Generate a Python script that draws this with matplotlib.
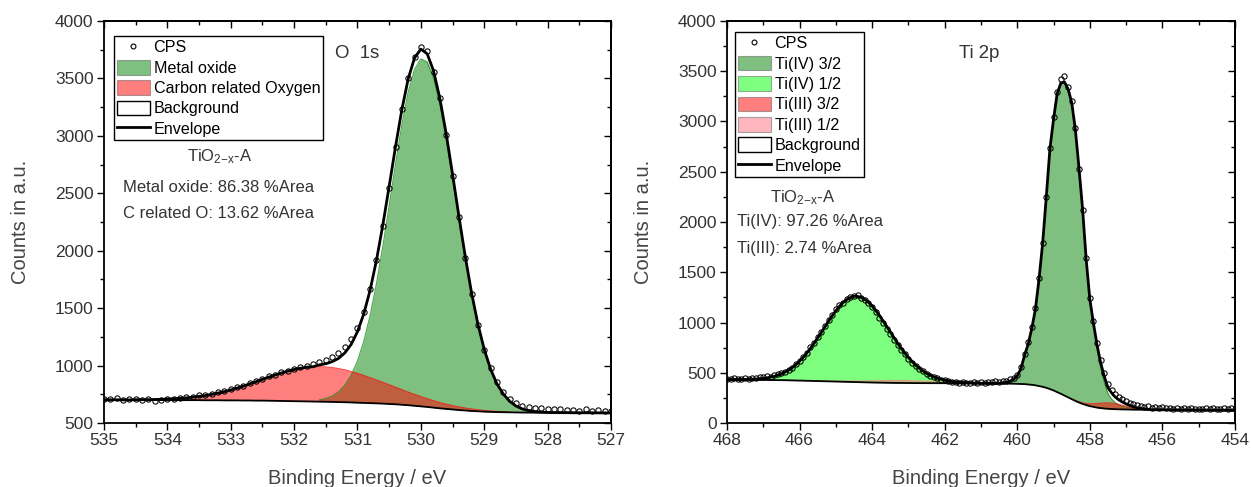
import numpy as np
import matplotlib.pyplot as plt
from matplotlib.lines import Line2D
from matplotlib.patches import Patch
from matplotlib.ticker import MultipleLocator

plt.rcParams['font.family'] = ['Liberation Sans', 'DejaVu Sans']
plt.rcParams['mathtext.fontset'] = 'custom'
plt.rcParams['mathtext.rm'] = 'Liberation Sans'
plt.rcParams['mathtext.it'] = 'Liberation Sans:italic'
plt.rcParams['mathtext.default'] = 'regular'

STEP = 0.1  # eV between channels, energies run downwards

# ---------------- O 1s ----------------
o1s_first = 535.0
o1s_cps = [
    712, 705, 716, 698, 708, 712, 700, 706, 694, 703,
    712, 709, 722, 730, 726, 741, 748, 752, 770, 779,
    792, 815, 820, 848, 866, 882, 905, 921, 940, 955,
    972, 985, 998, 1012, 1030, 1048, 1075, 1110, 1158, 1228,
    1330, 1470, 1665, 1915, 2215, 2545, 2900, 3230, 3500, 3690,
    3770, 3735, 3560, 3330, 3010, 2650, 2290, 1940, 1625, 1350,
    1135, 978, 855, 770, 712, 675, 652, 640, 628, 634,
    620, 618, 625, 612, 615, 608, 618, 606, 612, 603,
    608,
]
o1s_background = [
    702, 702, 702, 701, 701, 701, 701, 700, 700, 700,
    700, 700, 699, 699, 699, 699, 698, 698, 698, 697,
    697, 697, 696, 696, 695, 695, 694, 693, 692, 691,
    690, 689, 688, 687, 686, 685, 684, 682, 681, 679,
    677, 675, 673, 671, 669, 666, 663, 659, 655, 650,
    645, 640, 634, 628, 623, 618, 613, 609, 605, 602,
    599, 597, 595, 594, 593, 592, 591, 591, 590, 590,
    590, 590, 590, 590, 589, 589, 589, 589, 588, 588,
    588,
]
# fitted components: counts above background, from the given start energy
metal_oxide_first = 531.6
metal_oxide = [
    15, 28, 51, 88, 147, 236, 363, 537, 764, 1044,
    1370, 1727, 2093, 2437, 2727, 2929, 3025, 3003, 2872, 2648,
    2353, 2014, 1662, 1321, 1012, 747, 532, 365, 241, 154,
    94, 56, 32, 17, 9, 5, 2,
]
carbon_oxygen_first = 534.5
carbon_oxygen = [
    2, 2, 3, 5, 6, 9, 12, 15, 20, 26,
    33, 41, 51, 63, 76, 91, 107, 125, 145, 165,
    185, 205, 225, 244, 261, 276, 288, 298, 303, 305,
    303, 299, 292, 282, 269, 255, 239, 221, 203, 185,
    167, 149, 131, 114, 99, 85, 72, 60, 50, 41,
    34, 27, 22, 17, 13, 10, 8, 6, 5, 3,
]

# ---------------- Ti 2p ----------------
ti2p_first = 468.0
ti2p_cps = [
    440, 436, 445, 438, 442, 447, 441, 452, 449, 458,
    455, 466, 462, 478, 485, 497, 508, 530, 548, 590,
    618, 660, 700, 752, 795, 852, 905, 962, 1020, 1075,
    1130, 1172, 1195, 1236, 1252, 1265, 1272, 1248, 1225, 1190,
    1150, 1100, 1048, 995, 938, 885, 828, 778, 728, 684,
    640, 602, 570, 540, 515, 490, 471, 458, 445, 430,
    424, 418, 412, 405, 398, 410, 402, 396, 404, 399,
    408, 401, 412, 405, 415, 410, 422, 418, 435, 452,
    482, 560, 690, 810, 955, 1140, 1445, 1790, 2245, 2735,
    3040, 3290, 3420, 3455, 3340, 3205, 2935, 2530, 2115, 1640,
    1245, 1010, 800, 630, 500, 390, 330, 290, 255, 238,
    215, 200, 185, 178, 168, 160, 165, 152, 158, 148,
    155, 146, 150, 143, 152, 141, 146, 138, 149, 140,
    144, 137, 146, 139, 150, 142, 136, 145, 138, 147,
    140,
]
ti2p_background = [
    432, 432, 431, 431, 431, 430, 430, 430, 429, 429,
    429, 428, 428, 427, 427, 426, 426, 425, 424, 424,
    423, 422, 421, 420, 419, 418, 417, 416, 415, 414,
    413, 412, 411, 410, 409, 408, 407, 406, 405, 404,
    403, 402, 402, 401, 400, 400, 399, 399, 398, 398,
    398, 397, 397, 397, 397, 396, 396, 396, 396, 396,
    396, 396, 395, 395, 395, 395, 395, 395, 395, 394,
    394, 394, 394, 394, 394, 393, 393, 392, 392, 391,
    390, 389, 387, 384, 380, 375, 368, 360, 350, 338,
    324, 308, 291, 273, 255, 237, 220, 204, 190, 178,
    168, 160, 153, 148, 144, 141, 139, 137, 136, 135,
    134, 134, 133, 133, 133, 132, 132, 132, 132, 131,
    131, 131, 131, 130, 130, 130, 130, 129, 129, 129,
    129, 129, 128, 128, 128, 128, 128, 127, 127, 127,
    127,
]
ti4_32_first = 460.5
ti4_32 = [
    3, 6, 13, 25, 45, 80, 150, 285, 400, 560,
    757, 1064, 1430, 1900, 2390, 2700, 2970, 3090, 3120, 3070,
    2950, 2700, 2330, 1930, 1430, 1040, 800, 580, 400, 260,
    150, 100, 65, 45, 32, 24, 18, 13, 9, 6,
    4, 2,
]
ti4_12_first = 467.6
ti4_12 = [
    2, 3, 4, 6, 8, 11, 15, 21, 28, 37,
    49, 63, 81, 102, 127, 157, 192, 230, 274, 322,
    373, 427, 483, 540, 596, 650, 700, 745, 783, 812,
    832, 843, 843, 832, 812, 783, 745, 700, 650, 596,
    540, 483, 427, 373, 322, 274, 230, 192, 157, 127,
    102, 81, 63, 49, 37, 28, 21, 15, 11, 8,
    6, 4, 3, 2,
]
ti3_32_first = 458.5
ti3_32 = [2, 4, 6, 10, 16, 23, 32, 41, 49, 56, 60,
          60, 56, 49, 41, 32, 23, 16, 10, 6, 4, 2]
ti3_12_first = 465.5
ti3_12 = [
    1, 1, 2, 2, 3, 3, 4, 5, 6, 7,
    9, 10, 12, 13, 15, 17, 18, 20, 21, 23,
    24, 24, 25, 25, 25, 25, 24, 23, 21, 20,
    18, 17, 15, 13, 12, 10, 9, 7, 6, 5,
    4, 3, 3, 2, 2, 1, 1,
]

TEXT = '#333333'


def on_grid(first, heights, grid_first, n):
    full = np.zeros(n)
    i0 = int(round((grid_first - first) / STEP))
    full[i0:i0 + len(heights)] = heights
    return full


def draw_panel(ax, grid_first, cps, background, components):
    n = len(cps)
    energy = grid_first - STEP * np.arange(n)
    bg = np.asarray(background, dtype=float)
    envelope = bg.copy()

    handles = [Line2D([], [], ls='none', marker='o', mfc='none', mec='k',
                      ms=3.5, mew=0.8)]
    labels = ['CPS']
    for first, heights, color, label in components:
        h = on_grid(first, heights, grid_first, n)
        top = bg + h
        envelope += h
        ax.fill_between(energy, bg, top, color=color, alpha=0.5, lw=0, zorder=1)
        ax.plot(energy, np.where(h > 0, top, np.nan), color=color, lw=0.8,
                alpha=0.7, zorder=1.5)
        handles.append(Patch(facecolor=color, alpha=0.5, edgecolor='0.35', lw=0.8))
        labels.append(label)

    ax.plot(energy, bg, color='k', lw=1.3, zorder=2)
    ax.plot(energy, envelope, color='k', lw=2.0, zorder=3)
    ax.plot(energy, cps, ls='none', marker='o', mfc='none', mec='k',
            ms=3.8, mew=0.75, zorder=4)

    handles.append(Patch(facecolor='white', edgecolor='k', lw=1.0))
    labels.append('Background')
    handles.append(Line2D([], [], color='k', lw=2.0))
    labels.append('Envelope')
    return handles, labels


def style_axes(ax, xlim, ylim, ymajor):
    ax.set_xlim(*xlim)
    ax.set_ylim(*ylim)
    ax.xaxis.set_major_locator(MultipleLocator(1 if xlim[0] - xlim[1] < 10 else 2))
    ax.xaxis.set_minor_locator(MultipleLocator(0.5 if xlim[0] - xlim[1] < 10 else 1))
    ax.yaxis.set_major_locator(MultipleLocator(ymajor))
    ax.yaxis.set_minor_locator(MultipleLocator(ymajor / 2))
    ax.tick_params(which='both', direction='out', width=1.0, colors='k',
                   labelcolor=TEXT, labelsize=12.5)
    ax.tick_params(which='major', length=5, pad=2.5)
    ax.tick_params(which='minor', length=3)
    for s in ax.spines.values():
        s.set_linewidth(1.3)

    top = ax.secondary_xaxis('top')
    top.xaxis.set_major_locator(ax.xaxis.get_major_locator())
    top.xaxis.set_minor_locator(ax.xaxis.get_minor_locator())
    top.tick_params(which='both', direction='in', labeltop=False, width=1.0)
    top.tick_params(which='major', length=5)
    top.tick_params(which='minor', length=3)
    right = ax.secondary_yaxis('right')
    right.yaxis.set_major_locator(ax.yaxis.get_major_locator())
    right.yaxis.set_minor_locator(ax.yaxis.get_minor_locator())
    right.tick_params(which='both', direction='in', labelright=False, width=1.0)
    right.tick_params(which='major', length=5)
    right.tick_params(which='minor', length=3)
    for sec in (top, right):
        for s in sec.spines.values():
            s.set_linewidth(1.3)

    ax.set_xlabel('Binding Energy / eV', fontsize=14.5, color='#444444')
    ax.set_ylabel('Counts in a.u.', fontsize=14.5, color='#444444')
    ax.xaxis.set_label_coords(0.5, -0.115)
    ax.yaxis.set_label_coords(-0.146, 0.5)


fig = plt.figure(figsize=(12.51, 4.87), dpi=100)
ax1 = fig.add_axes([0.0831, 0.1314, 0.4053, 0.8255])
ax2 = fig.add_axes([0.5811, 0.1314, 0.4061, 0.8255])

legend_kw = dict(loc='upper left', fontsize=11.6, frameon=True, fancybox=False,
                 edgecolor='k', framealpha=1, borderaxespad=0, borderpad=0.2,
                 labelspacing=0.28, handlelength=2.0, handleheight=1.05,
                 handletextpad=0.25)

# O 1s
h1, l1 = draw_panel(ax1, o1s_first, o1s_cps, o1s_background, [
    (metal_oxide_first, metal_oxide, '#008000', 'Metal oxide'),
    (carbon_oxygen_first, carbon_oxygen, '#ff0000', 'Carbon related Oxygen'),
])
style_axes(ax1, (535, 527), (500, 4000), 500)
leg1 = ax1.legend(h1, l1, bbox_to_anchor=(0.020, 0.963), **legend_kw)
leg1.get_frame().set_linewidth(1.0)
ax1.text(0.456, 0.920, 'O  1s', transform=ax1.transAxes, fontsize=13.4,
         color=TEXT, va='center', ha='left')
ax1.text(0.227, 0.662, r'TiO$_{2\mathrm{-}x}$-A', transform=ax1.transAxes,
         fontsize=12, color=TEXT, va='center', ha='center')
ax1.text(0.037, 0.587, 'Metal oxide: 86.38 %Area', transform=ax1.transAxes,
         fontsize=12, color=TEXT, va='center', ha='left')
ax1.text(0.037, 0.522, 'C related O: 13.62 %Area', transform=ax1.transAxes,
         fontsize=12, color=TEXT, va='center', ha='left')

# Ti 2p
h2, l2 = draw_panel(ax2, ti2p_first, ti2p_cps, ti2p_background, [
    (ti4_32_first, ti4_32, '#008000', 'Ti(IV) 3/2'),
    (ti4_12_first, ti4_12, '#00ff00', 'Ti(IV) 1/2'),
    (ti3_32_first, ti3_32, '#ff0000', 'Ti(III) 3/2'),
    (ti3_12_first, ti3_12, '#ff7080', 'Ti(III) 1/2'),
])
style_axes(ax2, (468, 454), (0, 4000), 500)
leg2 = ax2.legend(h2, l2, bbox_to_anchor=(0.016, 0.973), **legend_kw)
leg2.get_frame().set_linewidth(1.0)
ax2.text(0.457, 0.920, 'Ti 2p', transform=ax2.transAxes, fontsize=13.4,
         color=TEXT, va='center', ha='left')
ax2.text(0.149, 0.560, r'TiO$_{2\mathrm{-}x}$-A', transform=ax2.transAxes,
         fontsize=12, color=TEXT, va='center', ha='center')
ax2.text(0.020, 0.500, 'Ti(IV): 97.26 %Area', transform=ax2.transAxes,
         fontsize=12, color=TEXT, va='center', ha='left')
ax2.text(0.020, 0.435, 'Ti(III): 2.74 %Area', transform=ax2.transAxes,
         fontsize=12, color=TEXT, va='center', ha='left')

fig.savefig('out.png', dpi=100)
